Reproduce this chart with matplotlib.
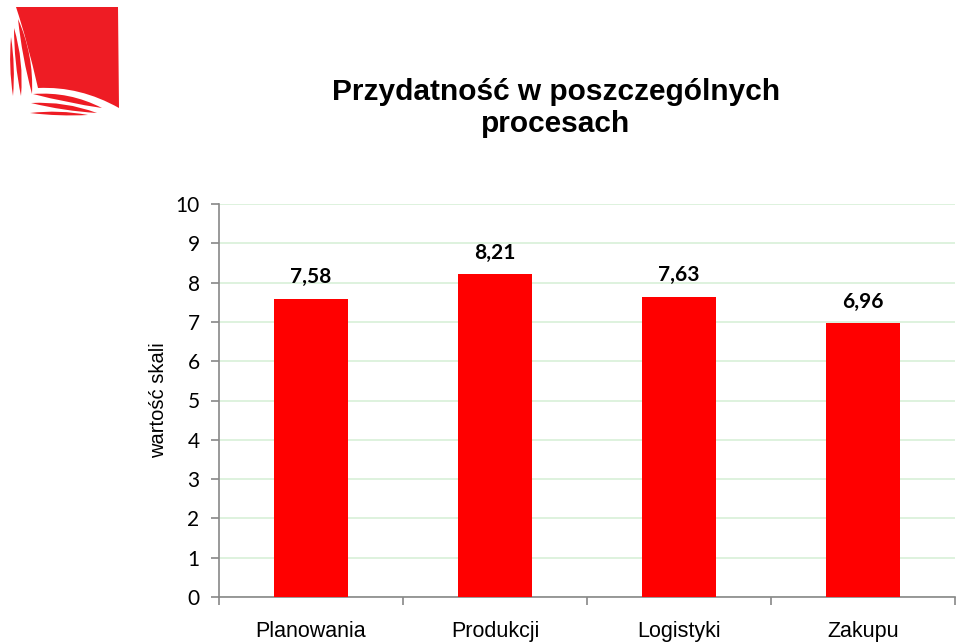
import matplotlib
matplotlib.use('Agg')
import matplotlib.pyplot as plt
from matplotlib.path import Path
from matplotlib.patches import PathPatch
import numpy as np

categories = ['Planowania', 'Produkcji', 'Logistyki', 'Zakupu']
values = [7.58, 8.21, 7.63, 6.96]
value_labels = ['7,58', '8,21', '7,63', '6,96']
yticks = list(range(0, 11))

W, H = 960, 642
RED_LOGO = '#ee1c24'
fig = plt.figure(figsize=(W / 100, H / 100), dpi=100)


def fx(px):
    return px / W


def fy(py):
    return 1 - py / H


def stripe(ax, p0, p1, thick, bow=0.0):
    # soczewkowaty pasek miedzy dwiema krzywymi Beziera
    p0, p1 = np.array(p0, float), np.array(p1, float)
    mid = (p0 + p1) / 2
    d = p1 - p0
    n = np.array([-d[1], d[0]]) / np.hypot(*d)
    c1 = mid + n * (bow + thick)
    c2 = mid + n * (bow - thick)
    verts = [p0, c1, p1, c2, p0]
    codes = [Path.MOVETO, Path.CURVE3, Path.CURVE3, Path.CURVE3, Path.CURVE3]
    ax.add_patch(PathPatch(Path(verts, codes), fc=RED_LOGO, ec='none'))


# logo, rysowane w pikselach obrazka
lg = fig.add_axes([0, fy(120), fx(130), 120 / H])
lg.set_xlim(0, 130)
lg.set_ylim(120, 0)
lg.axis('off')
verts = [(16, 7), (118, 7), (119, 108), (80, 86), (38, 88), (27, 40), (16, 7)]
codes = [Path.MOVETO, Path.LINETO, Path.LINETO, Path.CURVE3, Path.CURVE3,
         Path.CURVE3, Path.CURVE3]
lg.add_patch(PathPatch(Path(verts, codes), fc=RED_LOGO, ec='none'))
stripe(lg, (18, 19), (32, 94), 6.0, bow=-3)
stripe(lg, (14, 28), (21, 96), 5.0, bow=-1.5)
stripe(lg, (11, 37), (13, 96), 3.5)
stripe(lg, (33, 94), (102, 108), 6.0, bow=-4)
stripe(lg, (31, 103), (97, 113), 5.0, bow=-2)
stripe(lg, (30, 113), (88, 115), 3.5, bow=-1)

# tytul
fig.text(fx(556), fy(108), 'Przydatność w poszczególnych\nprocesach',
         ha='center', va='center', fontsize=21.5, fontweight='bold',
         family=['Liberation Sans', 'DejaVu Sans'], linespacing=1.15)

# wykres
ax = fig.add_axes([fx(219), fy(597), fx(955) - fx(219), (597 - 204) / H])
x = np.arange(len(categories))
ax.bar(x, values, width=0.4, color='#ff0000', zorder=3)
for xi, v, lab in zip(x, values, value_labels):
    ax.annotate(lab, (xi, v), xytext=(0, 8.5), textcoords='offset points',
                ha='center', va='bottom', fontsize=15, fontweight='bold',
                family=['Lato', 'DejaVu Sans'])

ax.set_xlim(-0.5, len(categories) - 0.5)
ax.set_ylim(0, 10)
ax.set_yticks(yticks)
ax.set_yticklabels([str(t) for t in yticks], family='Lato', fontsize=15)
ax.set_xticks(x)
ax.set_xticklabels(categories, family='Liberation Sans', fontsize=15.5)
ax.set_xticks(np.arange(-0.5, len(categories)), minor=True)
ax.tick_params(axis='x', which='major', length=0, pad=17)
ax.tick_params(axis='x', which='minor', length=6, color='#888888', width=1.2)
ax.tick_params(axis='y', length=6, color='#888888', width=1.2, pad=8)
ax.grid(axis='y', color='#d8f0d8', lw=1.2, zorder=0)
for s in ['top', 'right']:
    ax.spines[s].set_visible(False)
for s in ['left', 'bottom']:
    ax.spines[s].set_color('#888888')
    ax.spines[s].set_linewidth(1.2)
ax.set_ylabel('wartość skali', family='Liberation Sans', fontsize=14.5, labelpad=5)

fig.savefig('out.png', dpi=100)
